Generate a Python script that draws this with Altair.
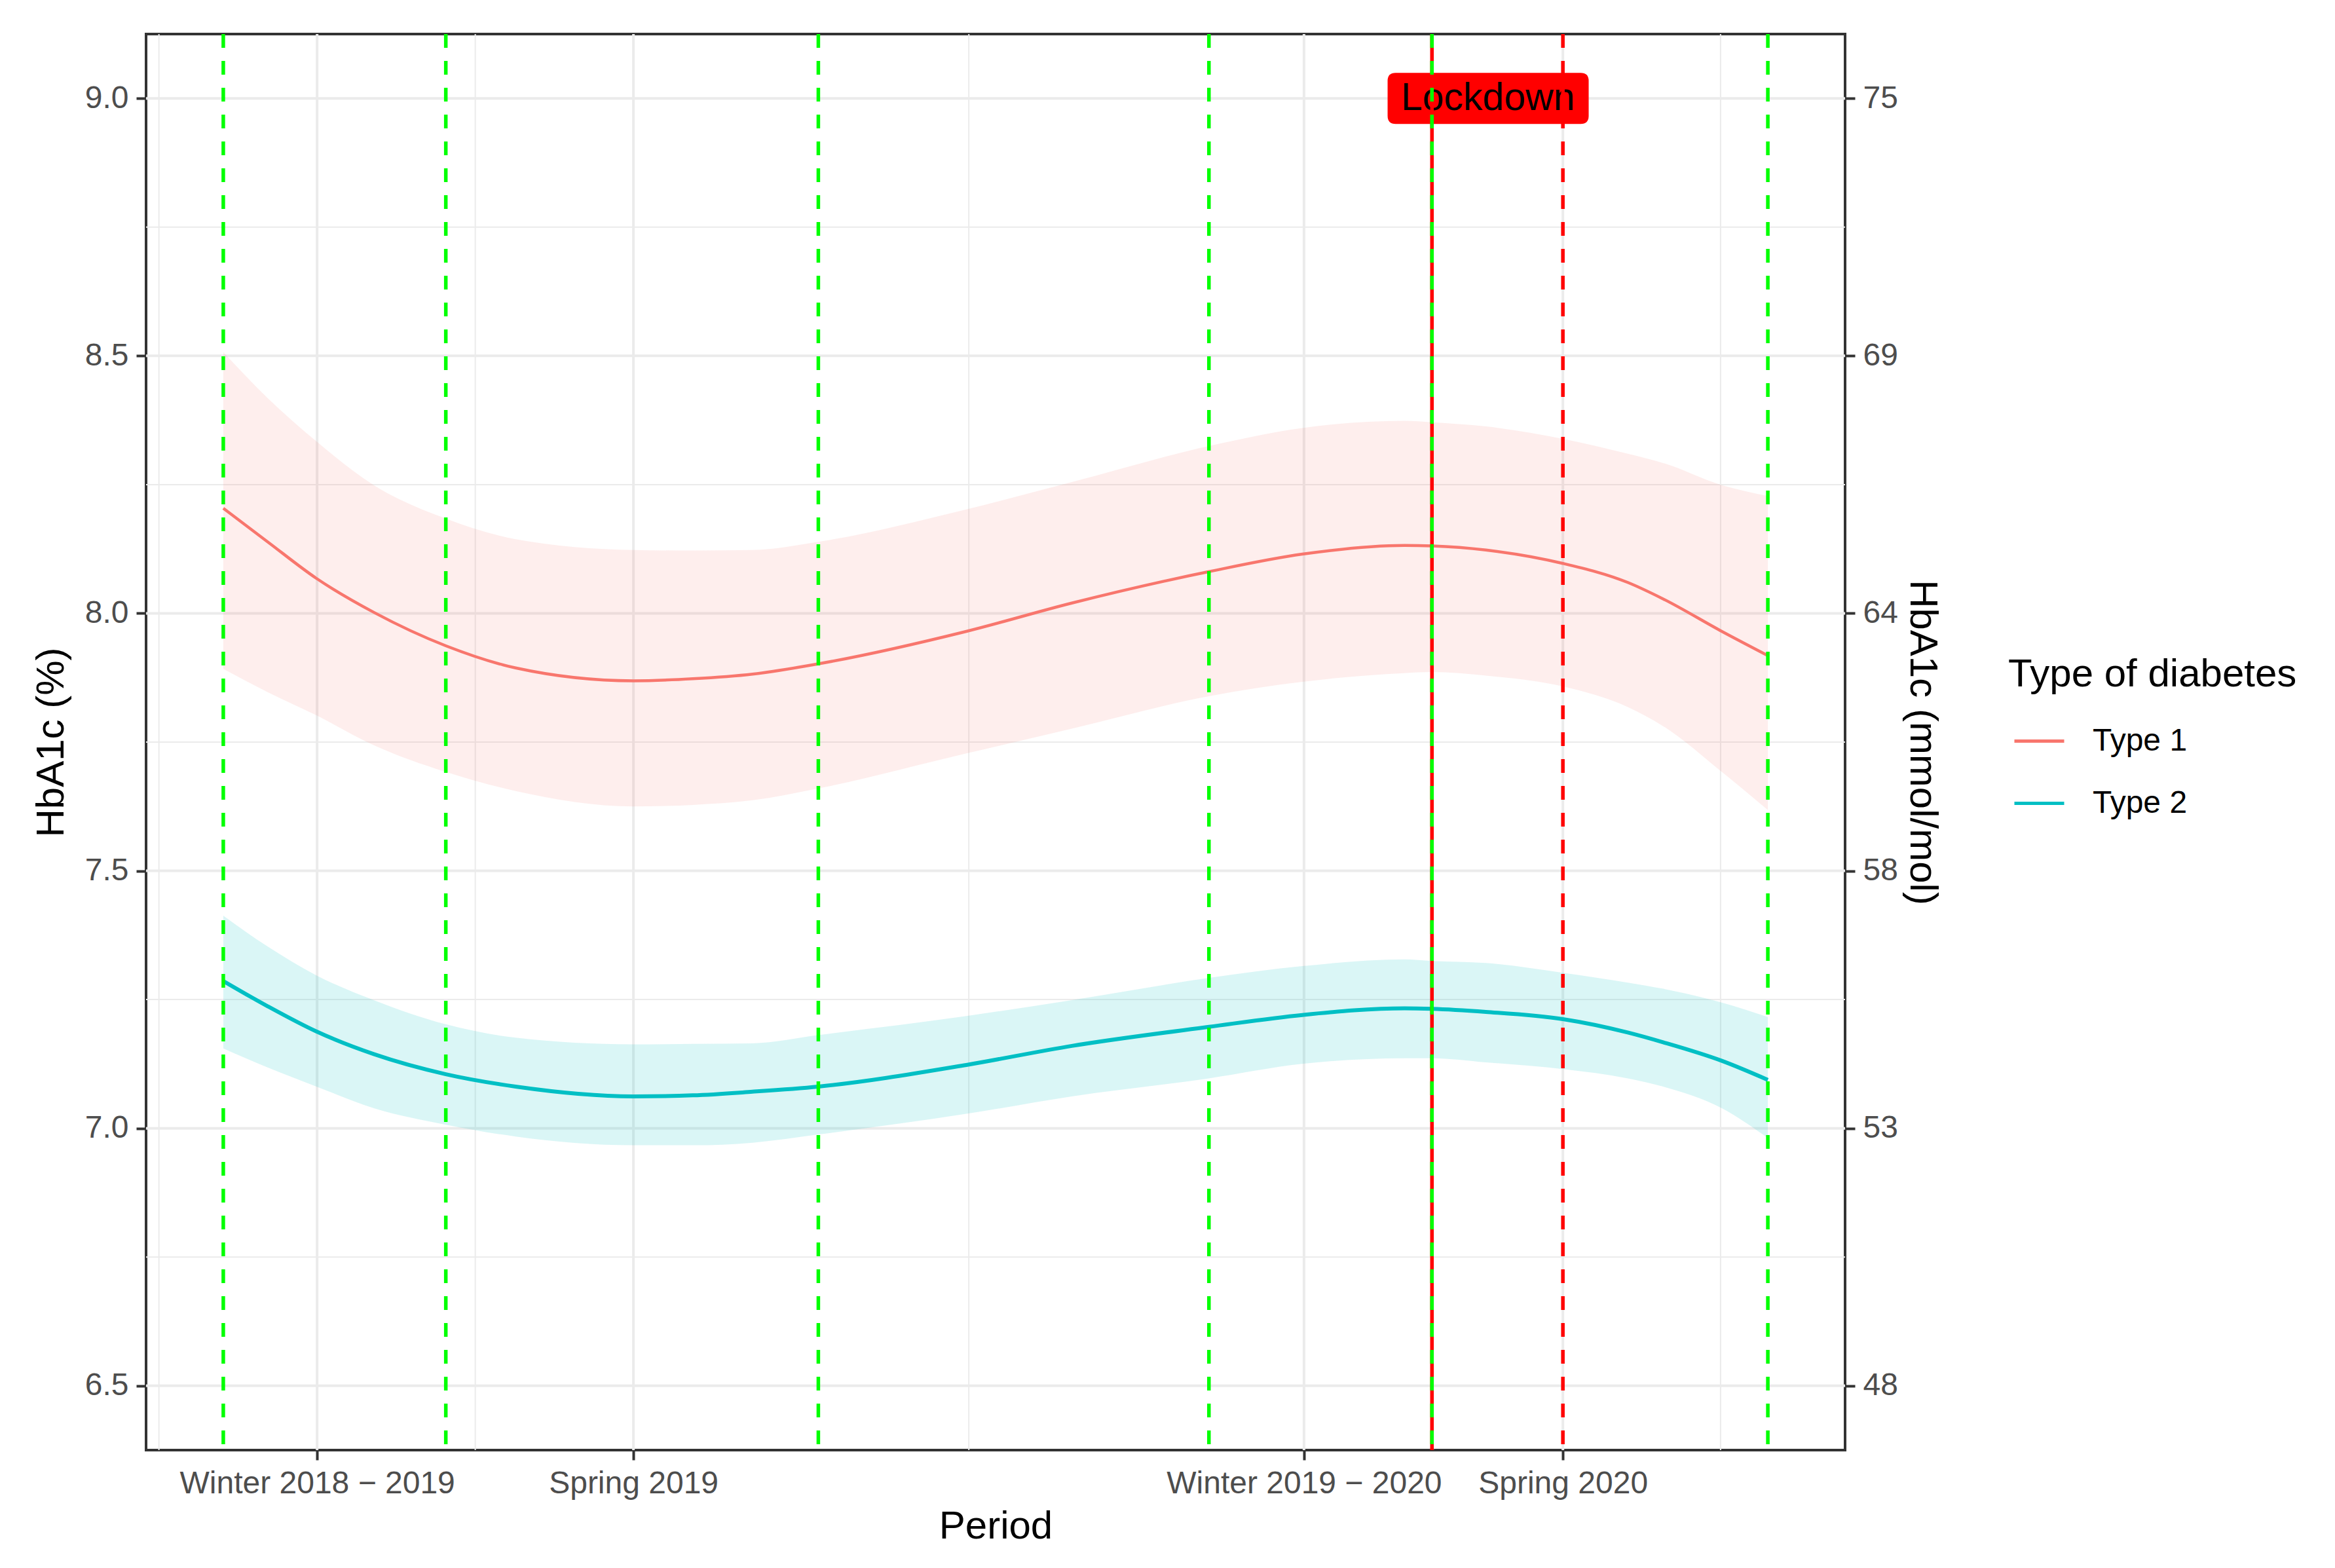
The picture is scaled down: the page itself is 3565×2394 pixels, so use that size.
import altair as alt
import pandas as pd

# ---------------- data ----------------
types = ["Type 1", "Type 2"]
colors = ["#F8766D", "#00BFC4"]

days = [0, 17.9, 37.6, 60.8, 89.9, 118.1, 165.7, 189.7, 213.8, 240.4, 300.2,
        342.8, 398.2, 435.9, 477.2, 488.3, 510.1, 541.2, 567.4, 581.7, 605.4, 624.0]
t1_fit = [8.204, 8.139, 8.068, 8.002, 7.937, 7.894, 7.869, 7.873, 7.882, 7.902, 7.965,
          8.020, 8.081, 8.115, 8.132, 8.131, 8.123, 8.097, 8.060, 8.028, 7.965, 7.918]
t1_lo = [7.892, 7.847, 7.802, 7.744, 7.692, 7.655, 7.625, 7.628, 7.637, 7.660, 7.728,
         7.776, 7.839, 7.867, 7.884, 7.886, 7.879, 7.858, 7.818, 7.781, 7.692, 7.618]
t1_hi = [8.507, 8.418, 8.334, 8.249, 8.184, 8.144, 8.123, 8.122, 8.123, 8.139, 8.202,
         8.255, 8.325, 8.360, 8.374, 8.371, 8.363, 8.339, 8.310, 8.292, 8.249, 8.228]
t2_fit = [7.286, 7.237, 7.188, 7.144, 7.105, 7.081, 7.062, 7.064, 7.071, 7.081, 7.123,
          7.160, 7.197, 7.220, 7.233, 7.232, 7.226, 7.212, 7.186, 7.167, 7.131, 7.094]
t2_lo = [7.155, 7.118, 7.081, 7.039, 7.007, 6.984, 6.967, 6.967, 6.972, 6.988, 7.028,
         7.062, 7.097, 7.125, 7.136, 7.136, 7.128, 7.115, 7.097, 7.081, 7.039, 6.981]
t2_hi = [7.413, 7.353, 7.297, 7.249, 7.202, 7.176, 7.163, 7.164, 7.165, 7.181, 7.218,
         7.249, 7.292, 7.315, 7.328, 7.325, 7.321, 7.302, 7.283, 7.271, 7.244, 7.216]

# x axis (period index) breaks and labels
x_domain = [-31.2, 655.2]
x_breaks = [37.9, 165.7, 436.6, 541.2]
x_labels = ["Winter 2018 \u2212 2019", "Spring 2019", "Winter 2019 \u2212 2020", "Spring 2020"]
x_minor = [-26.0, 101.8, 301.2, 488.8, 604.9]

# y axis
y_domain = [6.375, 9.125]
y_breaks = [6.5, 7.0, 7.5, 8.0, 8.5, 9.0]
y_labels_pct = ["6.5", "7.0", "7.5", "8.0", "8.5", "9.0"]
y_labels_mmol = ["48", "53", "58", "64", "69", "75"]
y_minor = [6.75, 7.25, 7.75, 8.25, 8.75]

# reference lines
green_lines = [0, 89.9, 240.4, 398.2, 488.3, 624.0]
lockdown_line = [488.3]
red_dashed = [541.2]
label_x = [511.0]
label_y = [9.0]
label_text = ["Lockdown"]

# ---------------- tables ----------------
rows = []
for i, d in enumerate(days):
    rows.append({"day": d, "type": types[0], "fit": t1_fit[i], "lo": t1_lo[i], "hi": t1_hi[i]})
for i, d in enumerate(days):
    rows.append({"day": d, "type": types[1], "fit": t2_fit[i], "lo": t2_lo[i], "hi": t2_hi[i]})
df = pd.DataFrame(rows)

FONT = "Liberation Sans"


def expr_from(values, labels):
    e = "''"
    for v, l in zip(reversed(values), reversed(labels)):
        e = f"datum.value == {v} ? '{l}' : ({e})"
    return e


xs = alt.Scale(domain=x_domain, nice=False, zero=False, padding=0)
ys = alt.Scale(domain=y_domain, nice=False, zero=False, padding=0)

x_axis = alt.Axis(values=x_breaks, labelExpr=expr_from(x_breaks, x_labels), title="Period",
                  orient="bottom", grid=False, domain=False, tickColor="#333333", tickWidth=4,
                  tickSize=15, labelColor="#4D4D4D", labelFontSize=48, labelFont=FONT,
                  labelPadding=12, labelOverlap=False, labelFlush=False, labelLimit=0,
                  titleFont=FONT, titleFontSize=60, titleColor="black", titleFontWeight="normal",
                  titlePadding=12)
y_axis_left = alt.Axis(values=y_breaks, labelExpr=expr_from(y_breaks, y_labels_pct), title="HbA1c (%)",
                       orient="left", grid=False, domain=False, tickColor="#333333", tickWidth=4,
                       tickSize=15, labelColor="#4D4D4D", labelFontSize=48, labelFont=FONT,
                       labelPadding=12, titleFont=FONT, titleFontSize=60, titleColor="black",
                       titleFontWeight="normal", titlePadding=20)
y_axis_right = alt.Axis(values=y_breaks, labelExpr=expr_from(y_breaks, y_labels_mmol),
                        title="HbA1c (mmol/mol)", orient="right", grid=False, domain=False,
                        tickColor="#333333", tickWidth=4, tickSize=15, labelColor="#4D4D4D",
                        labelFontSize=48, labelFont=FONT, labelPadding=12, titleFont=FONT,
                        titleFontSize=60, titleColor="black", titleFontWeight="normal",
                        titlePadding=6)

legend = alt.Legend(
    title="Type of diabetes", orient="none", legendX=2843, legendY=949, padding=0,
    titleFont=FONT, titleFontSize=60, titleColor="black", titleFontWeight="normal", titlePadding=30,
    titleLimit=0, labelLimit=0,
    labelFont=FONT, labelFontSize=48, labelColor="black", labelOffset=41,
    symbolType="stroke", symbolSize=5776, symbolStrokeWidth=5, rowPadding=30, symbolOffset=7,
)


def X(field):
    return alt.X(field, scale=xs, axis=x_axis)


def Y(field):
    return alt.Y(field, scale=ys, axis=y_axis_left)


grid_x_major = alt.Chart(pd.DataFrame({"v": x_breaks})).mark_rule(color="#EBEBEB", strokeWidth=4).encode(
    x=X("v:Q"))
grid_x_minor = alt.Chart(pd.DataFrame({"v": x_minor})).mark_rule(color="#EBEBEB", strokeWidth=2).encode(
    x=X("v:Q"))
grid_y_major = alt.Chart(pd.DataFrame({"v": y_breaks})).mark_rule(color="#EBEBEB", strokeWidth=4).encode(
    y=Y("v:Q"))
grid_y_minor = alt.Chart(pd.DataFrame({"v": y_minor})).mark_rule(color="#EBEBEB", strokeWidth=2).encode(
    y=Y("v:Q"))

ribbon1 = alt.Chart(df).transform_filter(alt.datum.type == types[0]).mark_area(
    interpolate="monotone", color=colors[0], opacity=0.125).encode(
    x=X("day:Q"), y=Y("lo:Q"), y2="hi:Q")
ribbon2 = alt.Chart(df).transform_filter(alt.datum.type == types[1]).mark_area(
    interpolate="monotone", color=colors[1], opacity=0.145).encode(
    x=X("day:Q"), y=Y("lo:Q"), y2="hi:Q")

lines = alt.Chart(df).mark_line(interpolate="monotone").encode(
    x=X("day:Q"),
    y=Y("fit:Q"),
    color=alt.Color("type:N", scale=alt.Scale(domain=types, range=colors), legend=legend),
    strokeWidth=alt.condition(alt.datum.type == types[0], alt.value(4.5), alt.value(6)),
)

lab_df = pd.DataFrame({"x": label_x, "y": label_y, "t": label_text})
box_path = ("M -0.92 -0.254 L 0.92 -0.254 Q 1 -0.254 1 -0.174 L 1 0.174 Q 1 0.254 0.92 0.254 "
            "L -0.92 0.254 Q -1 0.254 -1 0.174 L -1 -0.174 Q -1 -0.254 -0.92 -0.254 Z")
label_box = alt.Chart(lab_df).mark_point(shape=box_path, filled=True, color="#FF0000", opacity=1,
                                         size=307 * 307, strokeWidth=0).encode(
    x=X("x:Q"), y=Y("y:Q"))
label_txt = alt.Chart(lab_df).mark_text(font=FONT, fontSize=59, color="black", align="center",
                                        baseline="middle").encode(
    x=X("x:Q"), y=Y("y:Q"), text="t:N")

lock_rule = alt.Chart(pd.DataFrame({"v": lockdown_line})).mark_rule(color="#FF0000", strokeWidth=5.5).encode(
    x=X("v:Q"))
red_rule = alt.Chart(pd.DataFrame({"v": red_dashed})).mark_rule(
    color="#FF0000", strokeWidth=5.5, strokeDash=[21, 20]).encode(x=X("v:Q"))
green_rule = alt.Chart(pd.DataFrame({"v": green_lines})).mark_rule(
    color="#00FF00", strokeWidth=5.5, strokeDash=[21, 20]).encode(x=X("v:Q"))

main = alt.layer(grid_x_minor, grid_y_minor, grid_x_major, grid_y_major, ribbon1, ribbon2, lines,
                 label_box, label_txt, lock_rule, red_rule, green_rule)

right = alt.Chart(pd.DataFrame({"v": y_breaks})).mark_point(opacity=0).encode(
    y=alt.Y("v:Q", scale=ys, axis=y_axis_right))

chart = alt.layer(main, right).resolve_scale(y="independent").properties(
    width=2594, height=2162,
    autosize=alt.AutoSizeParams(type="none"),
    padding={"left": 215, "top": 44, "right": 740, "bottom": 172},
    background="white",
).configure_view(stroke="#333333", strokeWidth=4)

chart.save("out.html", embed_options={"renderer": "svg", "actions": False})
